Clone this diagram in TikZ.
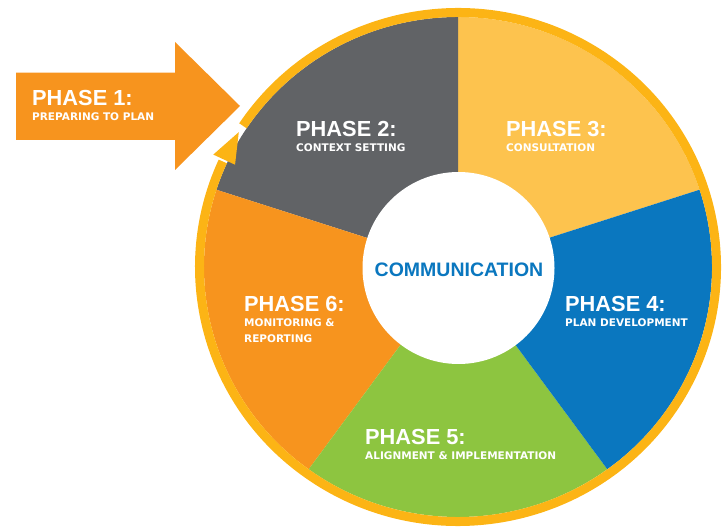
\documentclass[tikz,border=0pt]{standalone}
\usepackage{fontspec}
\setmainfont{Liberation Sans}
\newfontfamily\smallfont{DejaVu Sans}
\definecolor{ringc}{HTML}{FCB415}
\definecolor{ctwo}{HTML}{616366}
\definecolor{cthree}{HTML}{FDC34E}
\definecolor{cfour}{HTML}{0A77BF}
\definecolor{cfive}{HTML}{8DC540}
\definecolor{csix}{HTML}{F7941E}
\begin{document}
\begin{tikzpicture}[x=1pt,y=1pt,
  big/.style={anchor=base west, inner sep=0pt, text=white, font=\bfseries\fontsize{21.8}{26}\selectfont},
  sub/.style={anchor=base west, inner sep=0pt, text=white, font=\smallfont\bfseries\fontsize{10.5}{15.6}\selectfont}]
\useasboundingbox (0,0) rectangle (725,527);
% phase 1 arrow
\fill[csix] (16,387) -- (16,454.3) -- (175,454.3) -- (175,485) -- (240,421) -- (175,357) -- (175,387) -- cycle;
\begin{scope}[shift={(458,260)}]
\fill[cthree] (0,0) -- (18:254 and 250) arc[start angle=18,end angle=90,x radius=254,y radius=250] -- cycle;
\fill[ctwo] (0,0) -- (90:254 and 250) arc[start angle=90,end angle=162,x radius=254,y radius=250] -- cycle;
\fill[csix] (0,0) -- (162:254 and 250) arc[start angle=162,end angle=234,x radius=254,y radius=250] -- cycle;
\fill[cfive] (0,0) -- (234:254 and 250) arc[start angle=234,end angle=306,x radius=254,y radius=250] -- cycle;
\fill[cfour] (0,0) -- (306:254 and 250) arc[start angle=306,end angle=378,x radius=254,y radius=250] -- cycle;
\fill[white] (0.5,-1) circle[radius=96];
\draw[ringc, line width=9pt] (146.3:258.5 and 254.5) arc[start angle=146.3,end angle=-204.5,x radius=258.5,y radius=254.5];
\fill[ringc] (148:258.5 and 254.5) -- (155:270 and 266) -- (155:246 and 242) -- cycle;
\end{scope}
% texts
\node[big] (p1) at (32,421) {PHASE 1:};
\node[sub] (p1s) at (32,406.3) {PREPARING TO PLAN};
\node[big] (p2) at (296,390) {PHASE 2:};
\node[sub] (p2s) at (296,375) {CONTEXT SETTING};
\node[big] (p3) at (506,390) {PHASE 3:};
\node[sub] (p3s) at (506,375) {CONSULTATION};
\node[big] (p4) at (565,215) {PHASE 4:};
\node[sub] (p4s) at (565,200) {PLAN DEVELOPMENT};
\node[big] (p5) at (365,82) {PHASE 5:};
\node[sub] (p5s) at (365,67) {ALIGNMENT \& IMPLEMENTATION};
\node[big] (p6) at (244,215) {PHASE 6:};
\node[sub] (p6s) at (244,200.3) {MONITORING \&};
\node[sub] (p6t) at (244,184.7) {REPORTING};
\node[anchor=base, inner sep=0pt, text=cfour, font=\bfseries\fontsize{19.5}{23}\selectfont] (comm) at (459,250.3) {COMMUNICATION};
\end{tikzpicture}
\end{document}
